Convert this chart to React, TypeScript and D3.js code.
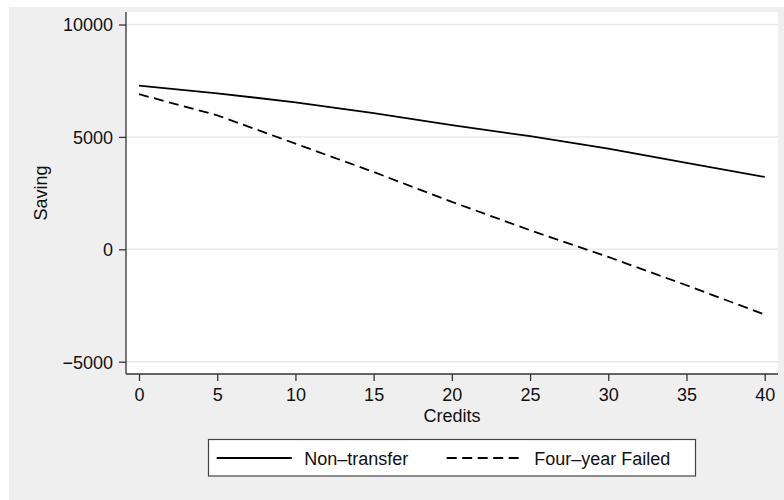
import { useEffect, useRef } from 'react';
import * as d3 from 'd3';

// Credits completed vs. estimated saving
const credits = [0, 5, 10, 15, 20, 25, 30, 35, 40];
const nonTransfer = [7280, 6940, 6540, 6060, 5520, 5030, 4480, 3840, 3220];
const fourYearFailed = [6900, 5960, 4700, 3440, 2110, 850, -340, -1600, -2900];

const xTicks = [0, 5, 10, 15, 20, 25, 30, 35, 40];
const yTicks = [-5000, 0, 5000, 10000];

const seriesNames = ['Non\u2013transfer', 'Four\u2013year Failed'];

const FONT = '"Liberation Sans", Arial, Helvetica, sans-serif';

export default function App() {
  const ref = useRef<SVGSVGElement>(null);

  useEffect(() => {
    if (!ref.current) return;
    const svg = d3.select(ref.current);
    svg.selectAll('*').remove();

    const W = 784;
    const H = 500;
    // plot region (white area)
    const plot = { left: 126, right: 778, top: 12, bottom: 374 };

    // page + graph background
    svg.append('rect').attr('width', W).attr('height', H).attr('fill', '#ffffff');
    svg
      .append('rect')
      .attr('x', 9)
      .attr('y', 7)
      .attr('width', W - 9)
      .attr('height', H - 7)
      .attr('fill', '#efefef');
    svg
      .append('rect')
      .attr('x', plot.left)
      .attr('y', plot.top)
      .attr('width', plot.right - plot.left)
      .attr('height', plot.bottom - plot.top)
      .attr('fill', '#ffffff');

    const xScale = d3.scaleLinear().domain([0, 40]).range([139, 764.7]);
    const yScale = d3.scaleLinear().domain([-5000, 10000]).range([361.7, 24.5]);

    // grid lines
    svg
      .append('g')
      .selectAll('line')
      .data(yTicks)
      .enter()
      .append('line')
      .attr('x1', plot.left)
      .attr('x2', plot.right)
      .attr('y1', (d) => yScale(d))
      .attr('y2', (d) => yScale(d))
      .attr('stroke', '#e9e9e9')
      .attr('stroke-width', 1.5);

    // series
    const line = d3
      .line<number>()
      .x((_, i) => xScale(credits[i]))
      .y((d) => yScale(d));

    svg
      .append('path')
      .datum(nonTransfer)
      .attr('fill', 'none')
      .attr('stroke', '#000')
      .attr('stroke-width', 1.8)
      .attr('d', line);

    svg
      .append('path')
      .datum(fourYearFailed)
      .attr('fill', 'none')
      .attr('stroke', '#000')
      .attr('stroke-width', 1.8)
      .attr('stroke-dasharray', '10,5.5')
      .attr('d', line);

    // Y axis
    const yAxis = svg
      .append('g')
      .attr('transform', `translate(${plot.left},0)`)
      .call(d3.axisLeft(yScale).tickValues(yTicks).tickSize(7).tickPadding(6));
    yAxis.select('.domain').remove();
    yAxis.selectAll('line').attr('stroke', '#333').attr('stroke-width', 1.3);
    yAxis
      .selectAll('text')
      .attr('dy', '0.36em')
      .style('font-family', FONT)
      .style('font-size', '18px')
      .style('fill', '#111')
      .text((d: any) => (d < 0 ? `\u2212${Math.abs(d)}` : `${d}`));

    // X axis
    const xAxis = svg
      .append('g')
      .attr('transform', `translate(0,${plot.bottom})`)
      .call(d3.axisBottom(xScale).tickValues(xTicks).tickSize(7).tickPadding(6));
    xAxis.select('.domain').remove();
    xAxis.selectAll('line').attr('stroke', '#333').attr('stroke-width', 1.3);
    xAxis
      .selectAll('text')
      .attr('y', 27)
      .attr('dy', 0)
      .style('font-family', FONT)
      .style('font-size', '18px')
      .style('fill', '#111');

    // axis lines
    svg
      .append('line')
      .attr('x1', plot.left)
      .attr('x2', plot.left)
      .attr('y1', plot.top)
      .attr('y2', plot.bottom)
      .attr('stroke', '#333')
      .attr('stroke-width', 1.3);
    svg
      .append('line')
      .attr('x1', plot.left)
      .attr('x2', plot.right)
      .attr('y1', plot.bottom)
      .attr('y2', plot.bottom)
      .attr('stroke', '#333')
      .attr('stroke-width', 1.3);

    // axis titles
    svg
      .append('text')
      .attr('x', (plot.left + plot.right) / 2)
      .attr('y', 422)
      .attr('text-anchor', 'middle')
      .style('font-family', FONT)
      .style('font-size', '18px')
      .style('fill', '#111')
      .text('Credits');

    svg
      .append('text')
      .attr('transform', `translate(46.5,${(plot.top + plot.bottom) / 2}) rotate(-90)`)
      .attr('text-anchor', 'middle')
      .style('font-family', FONT)
      .style('font-size', '18px')
      .style('fill', '#111')
      .text('Saving');

    // legend
    const legend = svg.append('g');
    legend
      .append('rect')
      .attr('x', 208.5)
      .attr('y', 439.5)
      .attr('width', 487)
      .attr('height', 36.5)
      .attr('fill', '#ffffff')
      .attr('stroke', '#444')
      .attr('stroke-width', 1.2);

    const legendItems = [
      { name: seriesNames[0], x: 216.7, dash: null },
      { name: seriesNames[1], x: 446.7, dash: '10,5.5' },
    ];
    legendItems.forEach((item) => {
      const l = legend
        .append('line')
        .attr('x1', item.x)
        .attr('x2', item.x + 75)
        .attr('y1', 458)
        .attr('y2', 458)
        .attr('stroke', '#000')
        .attr('stroke-width', 1.8);
      if (item.dash) l.attr('stroke-dasharray', item.dash);
      legend
        .append('text')
        .attr('x', item.x + 87.5)
        .attr('y', 464.5)
        .style('font-family', FONT)
        .style('font-size', '18px')
        .style('fill', '#111')
        .text(item.name);
    });
  }, []);

  return (
    <svg
      ref={ref}
      width={784}
      height={500}
      style={{ position: 'absolute', left: 0, top: 0, display: 'block' }}
    />
  );
}
